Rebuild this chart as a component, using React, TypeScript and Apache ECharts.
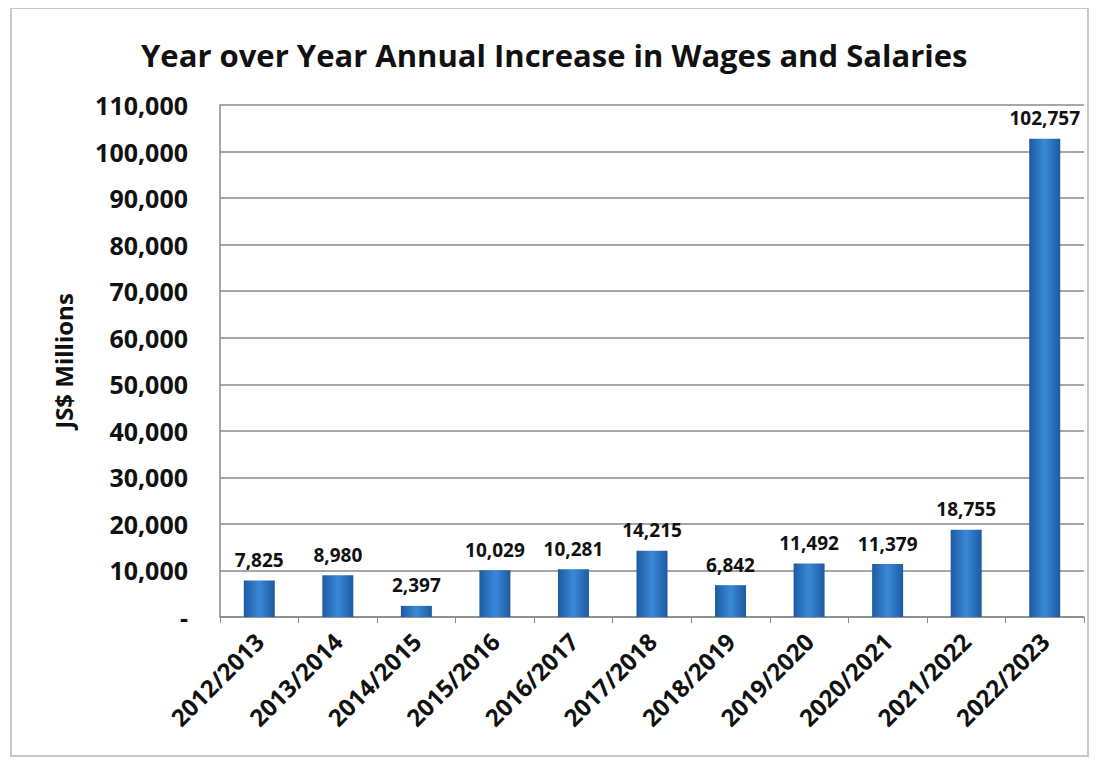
import React, { useEffect, useRef } from "react";
import * as echarts from "echarts";

const categories = [
  "2012/2013", "2013/2014", "2014/2015", "2015/2016", "2016/2017", "2017/2018",
  "2018/2019", "2019/2020", "2020/2021", "2021/2022", "2022/2023",
];
const increases = [7825, 8980, 2397, 10029, 10281, 14215, 6842, 11492, 11379, 18755, 102757];
const titleText = "Year over Year Annual Increase in Wages and Salaries";
const yAxisName = "JS$ Millions";

export default function App() {
  const ref = useRef<HTMLDivElement>(null);
  useEffect(() => {
    if (!ref.current) return;
    const chart = echarts.init(ref.current, undefined, { renderer: "svg" });
    const barColor = new echarts.graphic.LinearGradient(0, 0, 1, 0, [
      { offset: 0, color: "#1d5aa3" },
      { offset: 0.5, color: "#3a89d6" },
      { offset: 1, color: "#1d5aa3" },
    ]);
    chart.setOption({
      animation: false,
      backgroundColor: "#ffffff",
      graphic: [
        {
          type: "rect",
          shape: { x: 3, y: 0, width: 1077, height: 748 },
          style: { fill: "none", stroke: "#c8c8c8", lineWidth: 2 },
          silent: true,
        },
      ],
      title: {
        text: titleText,
        left: 128,
        top: 26,
        textStyle: {
          fontFamily: "Open Sans",
          fontWeight: "bold",
          fontSize: 31,
          color: "#111",
        },
      },
      grid: { left: 212, right: 11, top: 97, bottom: 140 },
      xAxis: {
        type: "category",
        data: categories,
        axisLine: { lineStyle: { color: "#8a8a8a", width: 1.5 } },
        axisTick: { show: true, alignWithLabel: false, length: 6, lineStyle: { color: "#8a8a8a" } },
        axisLabel: {
          rotate: 45,
          interval: 0,
          margin: 20,
          fontFamily: "Open Sans",
          fontWeight: "bold",
          fontSize: 24,
          color: "#111",
        },
      },
      yAxis: {
        type: "value",
        min: 0,
        max: 110000,
        interval: 10000,
        name: yAxisName,
        nameLocation: "middle",
        nameGap: 145,
        nameRotate: 90,
        nameTextStyle: {
          fontFamily: "Open Sans",
          fontWeight: "bold",
          fontSize: 24,
          color: "#111",
        },
        axisLine: { show: true, lineStyle: { color: "#8a8a8a", width: 1.5 } },
        axisTick: { show: false },
        splitLine: { lineStyle: { color: "#8a8a8a", width: 1.5 } },
        axisLabel: {
          margin: 32,
          fontFamily: "Open Sans",
          fontWeight: "bold",
          fontSize: 25,
          color: "#111",
          formatter: (v: number) => (v === 0 ? "-" : v.toLocaleString("en-US")),
        },
      },
      series: [
        {
          type: "bar",
          data: increases,
          barWidth: 31,
          itemStyle: { color: barColor },
          label: {
            show: true,
            position: "top",
            distance: 11,
            fontFamily: "Open Sans",
            fontWeight: "bold",
            fontSize: 19,
            color: "#111",
            formatter: (p: any) => Number(p.value).toLocaleString("en-US"),
          },
        },
      ],
    });
    return () => chart.dispose();
  }, []);
  return <div ref={ref} style={{ width: 1087, height: 749 }} />;
}
